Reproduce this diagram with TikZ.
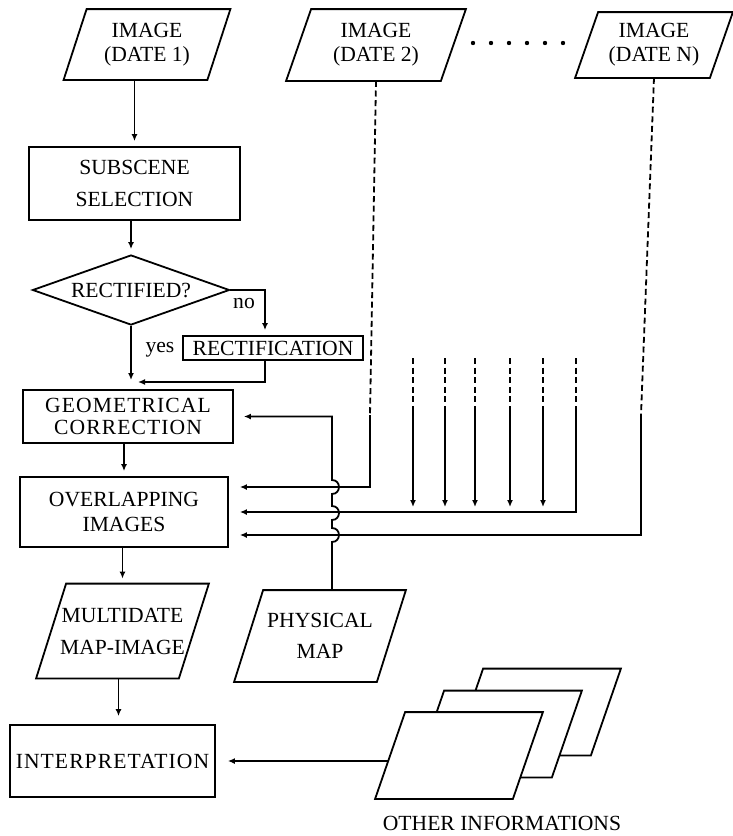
\documentclass[tikz,border=0pt]{standalone}
\usepackage{fontspec}
\setmainfont{Liberation Serif}
\newfontfamily\widefont[LetterSpace=5]{Liberation Serif}
\usepackage{tikz}
\usetikzlibrary{shapes.geometric, arrows.meta, positioning, calc}

% parallelogram outline round a node: #2 = node, #3 = slant
\newcommand\parashape[3][]{%
  \draw[#1] ([xshift=#3]#2.north west) -- (#2.north east)
    -- ([xshift=-#3]#2.south east) -- (#2.south west) -- cycle;}

\begin{document}
\begin{tikzpicture}[
  x=0.5pt, y=-0.5pt,
  line width=0.9pt,
  font=\fontsize{10.8}{12}\selectfont,
  box/.style     = {rectangle, draw, inner sep=0pt, align=center},
  para/.style    = {rectangle, inner sep=0pt, align=center},
  decision/.style= {diamond, draw, aspect=2.8, inner sep=0pt,
                    minimum width=98.5pt, minimum height=35pt},
  arr/.style     = {-{Latex[length=3.5pt,width=3pt]}, shorten >=2.5pt},
  harr/.style    = {arr, shorten >=5.5pt},
  dline/.style   = {dash pattern=on 3pt off 1.8pt},
  lbl/.style     = {inner sep=0pt},
]
\useasboundingbox (0,0) rectangle (733,836);

% input images
\node[para, minimum width=82.5pt, minimum height=34.5pt] (img1) at (147,44.5) {IMAGE\\(DATE 1)};
\node[para, minimum width=89pt, minimum height=35pt] (img2) at (376,45) {IMAGE\\(DATE 2)};
\node[para, minimum width=78pt, minimum height=32pt] (imgN) at (654,45) {IMAGE\\(DATE N)};
\parashape{img1}{11.5pt}
\parashape{img2}{12.5pt}
\parashape{imgN}{11.5pt}
\foreach \x in {473,491,509,527,545,563} \fill (\x,43) circle (1.1pt);

% main chain
\node[box, minimum width=105.5pt, minimum height=36.5pt] (sub) at (134.5,183.5) {SUBSCENE\\[4pt]SELECTION};
\node[decision] (dec) at (131,290) {RECTIFIED?};
\node[box, minimum width=90pt, minimum height=12pt] (rect) at (273,348) {RECTIFICATION};
\node[box, minimum width=105pt, minimum height=26.5pt, font=\widefont\fontsize{10.8}{12}\selectfont] (geo) at (128,416.5) {GEOMETRICAL\\[-1pt]CORRECTION};
\node[box, minimum width=104pt, minimum height=35pt] (ovl) at (124,512) {OVERLAPPING\\[0.5pt]IMAGES};
\node[para, minimum width=85.5pt, minimum height=46.5pt] (mdi) at (122.5,631) {MULTIDATE\\[4pt]MAP-IMAGE};
\node[para, minimum width=85pt, minimum height=45pt] (phy) at (320,636) {PHYSICAL\\[3.5pt]MAP};
\parashape{mdi}{15pt}
\parashape{phy}{14.5pt}
\node[box, minimum width=102.5pt, minimum height=36pt, font=\widefont\fontsize{10.8}{12}\selectfont] (intp) at (112.5,761) {INTERPRETATION};

% other informations (stack of sheets)
\node[para, minimum width=83pt, minimum height=42.5pt] (oi3) at (537,712) {};
\node[para, minimum width=83pt, minimum height=42.5pt] (oi2) at (498,734) {};
\node[para, minimum width=83pt, minimum height=42.5pt] (oi1) at (459,755.5) {};
\parashape[fill=white]{oi3}{15pt}
\parashape[fill=white]{oi2}{15pt}
\parashape[fill=white]{oi1}{15pt}
\node[lbl] (oinf) at (502,823) {OTHER INFORMATIONS};

\node[lbl] (no)  at (244,304) {no};
\node[lbl] (yes) at (160,350) {yes};

\draw[arr] (sub.north |- img1.south) -- (sub.north);
\draw[arr] (dec.north |- sub.south) -- (dec.north);
\draw[arr] (dec.east) -| ([xshift=-4pt]rect.north);
\coordinate (mrg) at (130,380);
\draw[arr, shorten >=0pt] (dec.south) -- (dec.south |- mrg);
\draw[arr, shorten >=0pt] ([xshift=-4pt]rect.south) |- ($(mrg)+(8,2)$);
\draw[arr] (ovl.north |- geo.south) -- (ovl.north);
\draw[arr] (mdi.north |- ovl.south) -- (mdi.north);
\draw[arr, shorten >=4pt] ([xshift=-2pt]mdi.south) -- ([xshift=-2pt]mdi.south |- intp.north);
\draw[harr, shorten >=6pt] ([xshift=7pt]oi1.west |- intp.east) -- (intp.east);

% physical map, hopping over the image lines
\draw[harr, shorten >=5pt] ([xshift=6pt]phy.north) -- (332,542)
  to[out=0,in=0,looseness=1.7] (332,528) -- (332,520)
  to[out=0,in=0,looseness=1.7] (332,506) -- (332,494)
  to[out=0,in=0,looseness=1.7] (332,480) |- (geo.east);

% other dates
\coordinate (d2) at (370,415);
\coordinate (dN) at (641,415);
\draw[dline] (img2.south) -- (d2);
\draw[harr] (d2) |- ([yshift=12.5pt]ovl.east);
\draw[dline] (imgN.south) -- (dN);
\draw[harr] (dN) |- ([yshift=-11.5pt]ovl.east);

\foreach \x [count=\i] in {413,445,475,510,543,576} {
  \coordinate (t\i) at (\x,358);
  \coordinate (m\i) at (\x,412);
  \draw[dline] (t\i) -- (m\i);
}
\foreach \i in {1,...,5} \draw[arr] (m\i) -- (m\i |- ovl.east);
\draw[harr] (m6) |- (ovl.east);
\end{tikzpicture}
\end{document}
